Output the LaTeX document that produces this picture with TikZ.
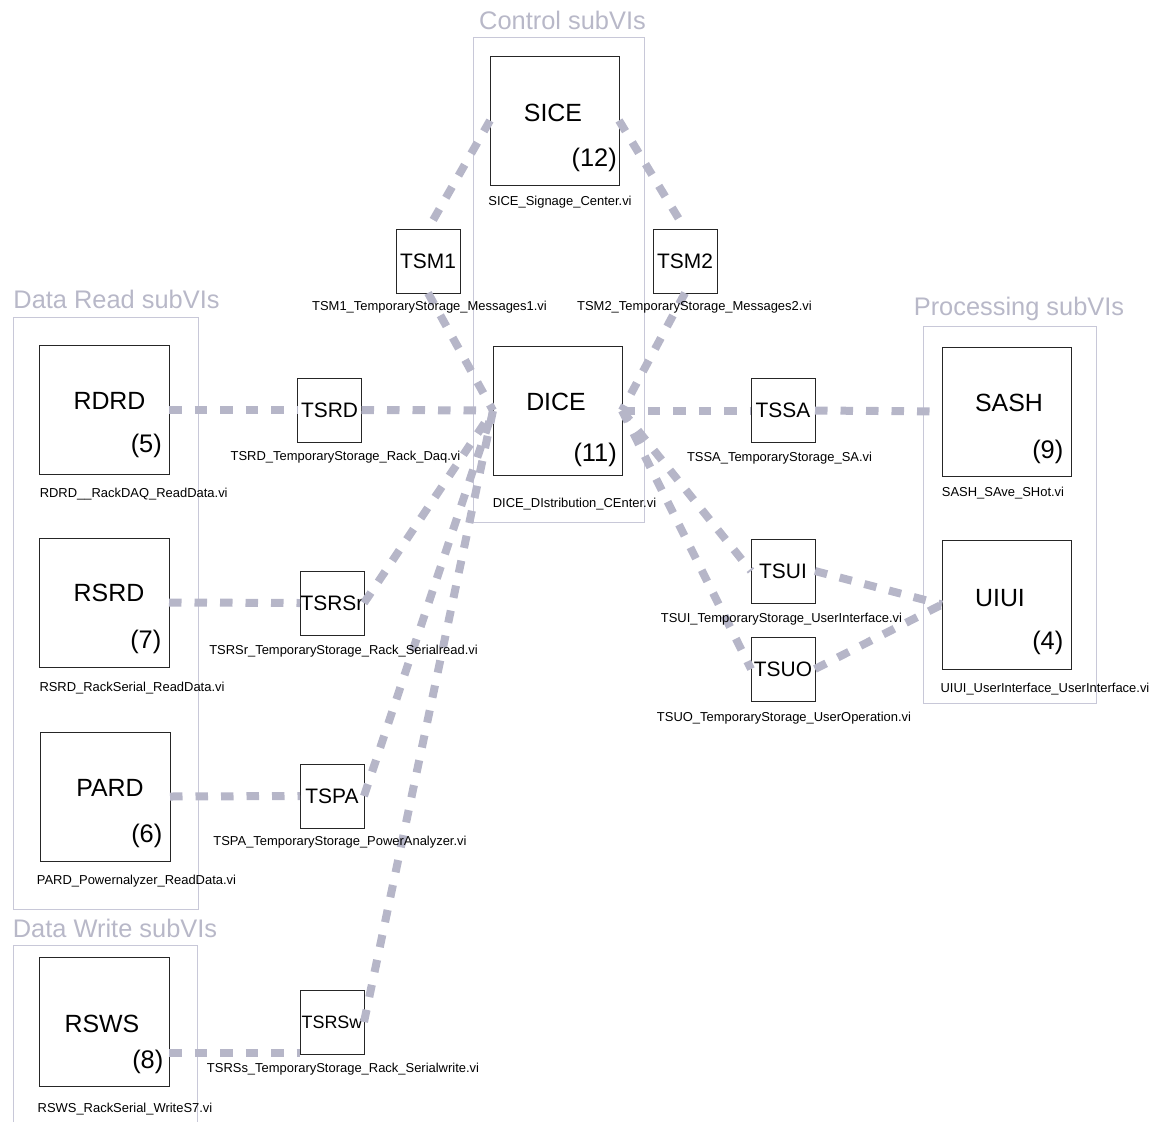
\documentclass[tikz,border=0pt]{standalone}
\usepackage{fontspec}
\setmainfont{Liberation Sans}
\usetikzlibrary{calc}
\definecolor{wirecol}{RGB}{182,182,200}
\definecolor{framecol}{RGB}{200,200,216}
\definecolor{titlecol}{RGB}{184,184,200}

\begin{document}
\begin{tikzpicture}[x=1bp,y=-1bp,
  bigvi/.style={draw=black!85, line width=1bp, fill=white, minimum width=129bp,
    minimum height=129bp, inner sep=0pt, outer sep=0pt},
  smallvi/.style={draw=black!85, line width=1bp, fill=white, minimum width=64bp,
    minimum height=64bp, inner sep=0pt, outer sep=0pt, font=\fontsize{21}{24}\selectfont},
  vlabel/.style={font=\fontsize{25}{30}\selectfont, inner sep=0pt},
  vnum/.style={font=\fontsize{25.5}{30}\selectfont, inner sep=0pt, anchor=east},
  vcap/.style={font=\fontsize{13}{15}\selectfont, inner sep=0pt, anchor=base},
  grp/.style={draw=framecol, line width=1bp},
  grptitle/.style={font=\fontsize{25.5}{30}\selectfont, text=titlecol, inner sep=0pt, anchor=base},
  conn/.style={draw=wirecol, line width=8bp, dash pattern=on 12.5bp off 13bp}
]
\useasboundingbox (0,0) rectangle (1159,1122);

% group frames and their titles
\draw[grp] (473,37) rectangle (644,522);
\draw[grp] (13,317) rectangle (198,909);
\draw[grp] (923,326) rectangle (1096,703);
\draw[grp] (13,1122) -- (13,945) -- (197,945) -- (197,1122);
\node[grptitle] (tctl) at (562.5,29) {Control subVIs};
\node[grptitle] (trd)  at (116.5,308) {Data Read subVIs};
\node[grptitle] (tproc) at (1019,315) {Processing subVIs};
\node[grptitle] (twr)  at (115,937) {Data Write subVIs};

% subVI boxes
\node[bigvi] (SICE) at (554.5,120.5) {};
\node[bigvi] (DICE) at (557.5,410.5) {};
\node[bigvi] (SASH) at (1006.5,411.5) {};
\node[bigvi] (UIUI) at (1006.5,604.5) {};
\node[bigvi] (RDRD) at (104.5,410) {};
\node[bigvi] (RSRD) at (104.5,602.5) {};
\node[bigvi] (PARD) at (105.5,796.5) {};
\node[bigvi] (RSWS) at (104.5,1021.5) {};

\node[smallvi] (TSM1) at (428,261) {TSM1};
\node[smallvi] (TSM2) at (685,261) {TSM2};
\node[smallvi] (TSRD) at (329.5,410) {TSRD};
\node[smallvi] (TSSA) at (783,410.5) {TSSA};
\node[smallvi] (TSUI) at (783,571) {TSUI};
\node[smallvi] (TSUO) at (783,669) {TSUO};
\node[smallvi] (TSRSr) at (332,603) {TSRSr};
\node[smallvi] (TSPA) at (332,796) {TSPA};
\node[smallvi, font=\fontsize{18}{21}\selectfont] (TSRSw) at (332,1022) {TSRSw};

% connectors
\coordinate (wr) at ([yshift=-31.5bp]RSWS.east);
\draw[conn] (RDRD.east) -- (TSRD.west);
\draw[conn] (TSRD.east) -- (DICE.west);
\draw[conn] (RSRD.east) -- (TSRSr.west);
\draw[conn] (TSRSr.east) -- (DICE.west);
\draw[conn] (PARD.east) -- (TSPA.west);
\draw[conn] (TSPA.east) -- (DICE.west);
\draw[conn] (wr) -- (wr -| TSRSw.west);
\draw[conn] (TSRSw.east) -- (DICE.west);
\draw[conn] (SICE.west) -- (TSM1.north);
\draw[conn] (TSM1.south) -- (DICE.west);
\draw[conn] (SICE.east) -- (TSM2.north);
\draw[conn] (TSM2.south) -- (DICE.east);
\draw[conn] (DICE.east) -- (TSSA.west);
\draw[conn] (TSSA.east) -- (SASH.west);
\draw[conn] (DICE.east) -- (TSUI.west);
\draw[conn] (DICE.east) -- (TSUO.west);
\draw[conn] (TSUI.east) -- (UIUI.west);
\draw[conn] (TSUO.east) -- (UIUI.west);

% names and numbers inside the large boxes
\node[vlabel] (lSICE) at (553,112.5) {SICE};
\node[vnum]   (nSICE) at (617,160) {(12)};
\node[vlabel] (lDICE) at (556,402) {DICE};
\node[vnum]   (nDICE) at (617,454.5) {(11)};
\node[vlabel] (lSASH) at (1009,402.5) {SASH};
\node[vnum]   (nSASH) at (1063.5,452) {(9)};
\node[vlabel] (lUIUI) at (1000,598) {UIUI};
\node[vnum]   (nUIUI) at (1063.5,642.5) {(4)};
\node[vlabel] (lRDRD) at (109.5,401) {RDRD};
\node[vnum]   (nRDRD) at (162,446) {(5)};
\node[vlabel] (lRSRD) at (109,593) {RSRD};
\node[vnum]   (nRSRD) at (161.5,641.5) {(7)};
\node[vlabel] (lPARD) at (110,787.5) {PARD};
\node[vnum]   (nPARD) at (162.5,835.5) {(6)};
\node[vlabel] (lRSWS) at (102,1023.5) {RSWS};
\node[vnum]   (nRSWS) at (163.5,1061.5) {(8)};

% file names under the boxes
\node[vcap] (cSICE) at (560,205.5) {SICE\_Signage\_Center.vi};
\node[vcap] (cTSM1) at (429.5,310) {TSM1\_TemporaryStorage\_Messages1.vi};
\node[vcap] (cTSM2) at (694.5,310) {TSM2\_TemporaryStorage\_Messages2.vi};
\node[vcap] (cDICE) at (574.5,507.5) {DICE\_DIstribution\_CEnter.vi};
\node[vcap] (cTSRD) at (345.5,460.5) {TSRD\_TemporaryStorage\_Rack\_Daq.vi};
\node[vcap] (cTSSA) at (779.5,461.5) {TSSA\_TemporaryStorage\_SA.vi};
\node[vcap] (cSASH) at (1003,496.5) {SASH\_SAve\_SHot.vi};
\node[vcap] (cTSUI) at (781.5,622.5) {TSUI\_TemporaryStorage\_UserInterface.vi};
\node[vcap] (cTSUO) at (784,721.5) {TSUO\_TemporaryStorage\_UserOperation.vi};
\node[vcap] (cUIUI) at (1045,692) {UIUI\_UserInterface\_UserInterface.vi};
\node[vcap] (cRDRD) at (133.7,497.5) {RDRD\_\_RackDAQ\_ReadData.vi};
\node[vcap] (cRSRD) at (132,691.5) {RSRD\_RackSerial\_ReadData.vi};
\node[vcap] (cPARD) at (136.5,884) {PARD\_Powernalyzer\_ReadData.vi};
\node[vcap] (cRSWS) at (125,1112.5) {RSWS\_RackSerial\_WriteS7.vi};
\node[vcap] (cTSRSr) at (343.5,654.5) {TSRSr\_TemporaryStorage\_Rack\_Serialread.vi};
\node[vcap] (cTSPA) at (340,845.5) {TSPA\_TemporaryStorage\_PowerAnalyzer.vi};
\node[vcap] (cTSRSw) at (343,1072.5) {TSRSs\_TemporaryStorage\_Rack\_Serialwrite.vi};
\end{tikzpicture}
\end{document}
